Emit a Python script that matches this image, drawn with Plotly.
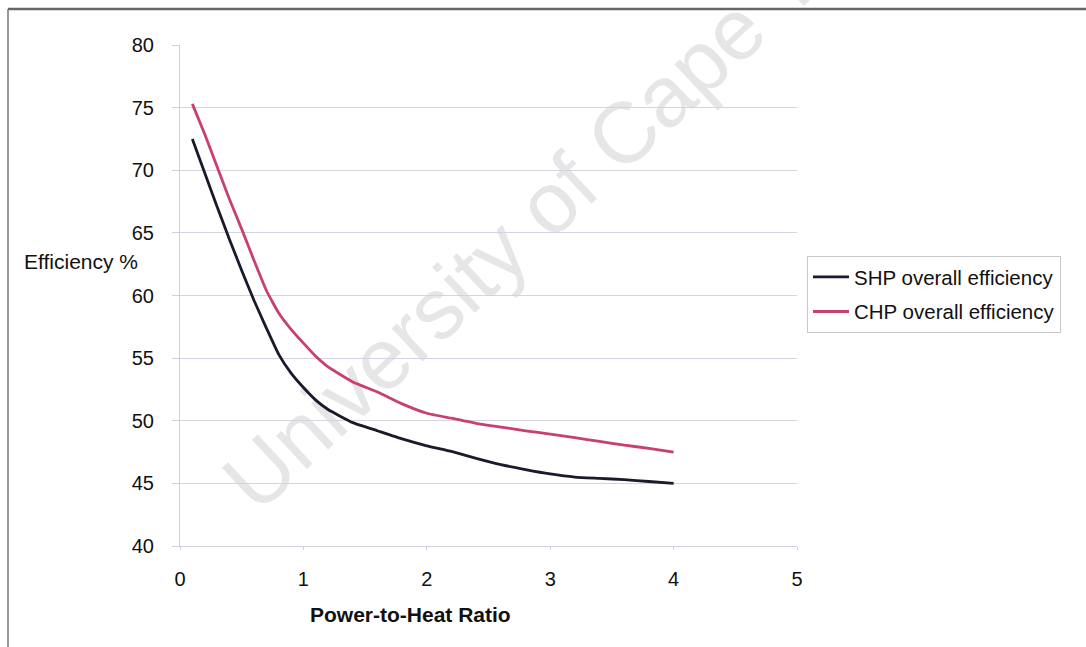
import plotly.graph_objects as go

ratio = [0.1, 0.2, 0.3, 0.4, 0.5, 0.6, 0.7, 0.8, 0.9, 1.0, 1.1, 1.2, 1.4, 1.6, 1.8, 2.0,
         2.2, 2.4, 2.6, 2.8, 3.0, 3.2, 3.4, 3.6, 3.8, 4.0]
shp = [72.5, 69.8, 67.1, 64.5, 62.0, 59.6, 57.4, 55.3, 53.8, 52.65, 51.65, 50.9, 49.85, 49.2,
       48.55, 48.0, 47.55, 47.0, 46.5, 46.1, 45.75, 45.5, 45.4, 45.3, 45.15, 45.0]
chp = [75.3, 72.9, 70.3, 67.7, 65.3, 62.8, 60.4, 58.6, 57.3, 56.2, 55.15, 54.3, 53.1, 52.3,
       51.35, 50.6, 50.2, 49.8, 49.5, 49.2, 48.93, 48.65, 48.35, 48.05, 47.8, 47.5]
y_ticks = [40, 45, 50, 55, 60, 65, 70, 75, 80]
x_ticks = [0, 1, 2, 3, 4, 5]

W, H = 1086, 647
L, R, T, B = 180, 289, 45, 101
pw, ph = W - L - R, H - T - B

def px(x):
    return (x - L) / pw

def py(y):
    return (H - B - y) / ph

FONT = "Liberation Sans, Arial, sans-serif"
FS = 21

fig = go.Figure()
fig.add_trace(go.Scatter(x=ratio, y=shp, mode="lines", name="SHP overall efficiency",
                         legendgroup="a",
                         line=dict(color="#1a1a2c", width=2.8, shape="spline", smoothing=0.4)))
fig.add_trace(go.Scatter(x=ratio, y=chp, mode="lines", name="CHP overall efficiency",
                         legendgroup="b",
                         line=dict(color="#c8406f", width=2.8, shape="spline", smoothing=0.4)))

fig.update_layout(
    width=W, height=H,
    margin=dict(l=L, r=R, t=T, b=B),
    paper_bgcolor="white", plot_bgcolor="rgba(0,0,0,0)",
    font=dict(family=FONT, size=FS, color="#111"),
    showlegend=True,
    legend=dict(x=px(807), y=py(256), xanchor="left", yanchor="top",
                bordercolor="#c8c8c8", borderwidth=1, bgcolor="white",
                font=dict(size=FS - 0.5, color="#111"), itemwidth=36,
                traceorder="grouped", tracegroupgap=5),
    xaxis=dict(range=[0, 5], tickvals=x_ticks, showgrid=False, zeroline=False,
               showline=True, linecolor="#d0d0dc", linewidth=1,
               ticks="outside", ticklen=3, tickcolor="#d0d0dc",
               ticklabelstandoff=12, tickfont=dict(size=FS - 1)),
    yaxis=dict(range=[40, 80], tickvals=y_ticks, showgrid=True, gridcolor="#d4d4de",
               gridwidth=1, zeroline=False, showline=True, linecolor="#d0d0dc", linewidth=1,
               ticks="outside", ticklen=7, tickcolor="#d0d0dc",
               ticklabelstandoff=14, tickfont=dict(size=FS - 1)),
    annotations=[
        dict(text="Efficiency %", x=px(22), y=py(261), xref="paper", yref="paper",
             xanchor="left", yanchor="middle", showarrow=False, font=dict(size=FS)),
        dict(text="<b>Power-to-Heat Ratio</b>", x=px(410), y=py(614), xref="paper", yref="paper",
             xanchor="center", yanchor="middle", showarrow=False, font=dict(size=FS)),
    ],
    shapes=[
        dict(type="rect", xref="paper", yref="paper", layer="below",
             x0=px(560), x1=px(580), y0=py(182), y1=py(162),
             line=dict(width=0), fillcolor="rgba(0,0,0,0)",
             label=dict(text="University of Cape Town", textangle=-43,
                        textposition="middle center",
                        font=dict(size=86, color="#e6e6e6", family=FONT))),
        dict(type="line", xref="paper", yref="paper", x0=px(8), x1=px(1086), y0=py(9), y1=py(9),
             line=dict(color="#666", width=2.5)),
        dict(type="line", xref="paper", yref="paper", x0=px(8), x1=px(8), y0=py(9), y1=py(647),
             line=dict(color="#777", width=1.5)),
    ],
)

fig.write_html("out.html")
